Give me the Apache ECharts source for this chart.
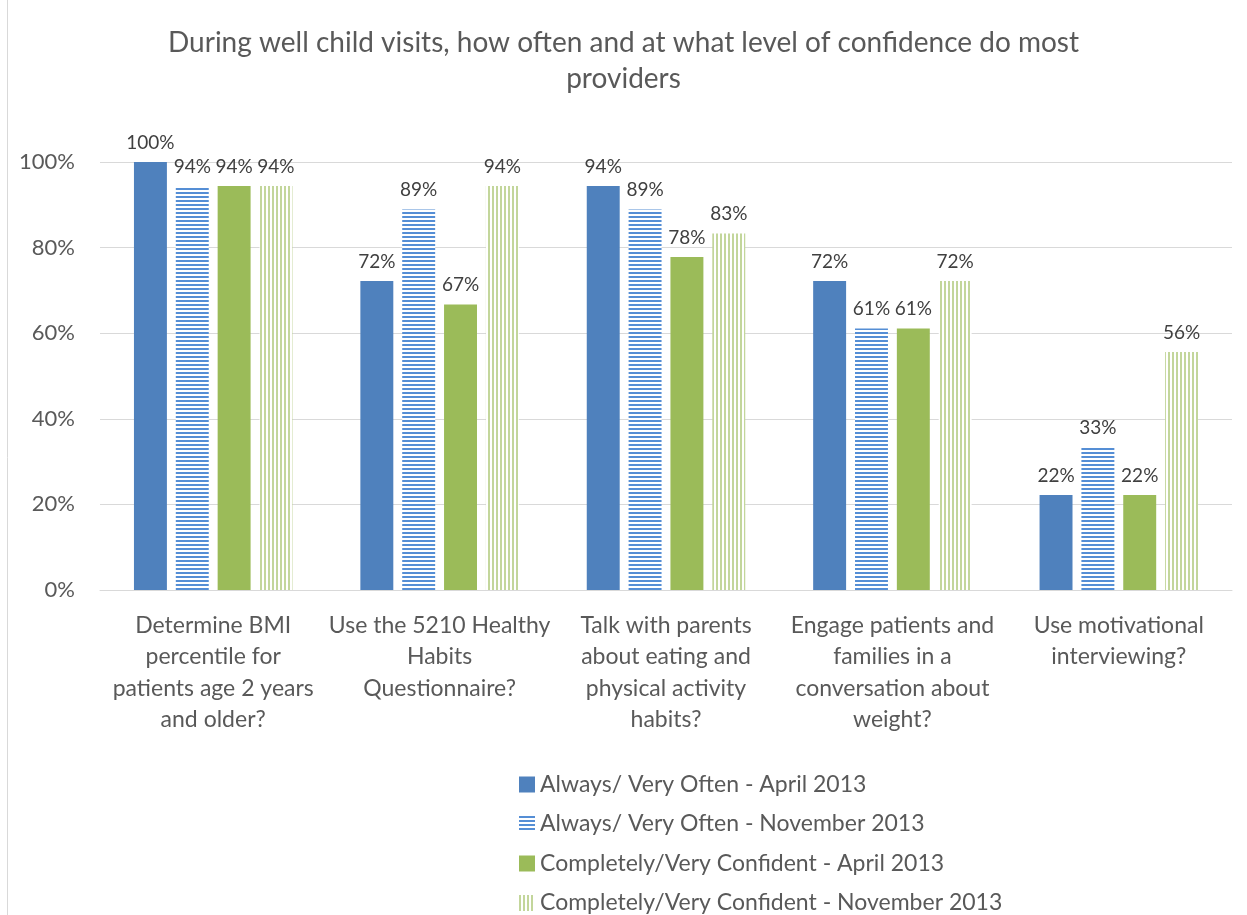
<!DOCTYPE html>
<html><head><meta charset="utf-8">
<script src="https://cdn.jsdelivr.net/npm/echarts@6/dist/echarts.min.js"></script>
<style>html,body{margin:0;padding:0;background:#fff}#c{width:1247px;height:915px}</style>
</head><body><div id="c"></div>
<script>
const titleText = 'During well child visits, how often and at what level of confidence do most\nproviders';
const categories = [
  'Determine BMI\npercentile for\npatients age 2 years\nand older?',
  'Use the 5210 Healthy\nHabits\nQuestionnaire?',
  'Talk with parents\nabout eating and\nphysical activity\nhabits?',
  'Engage patients and\nfamilies in a\nconversation about\nweight?',
  'Use motivational\ninterviewing?'
];
const seriesNames = [
  'Always/ Very Often - April 2013',
  'Always/ Very Often - November 2013',
  'Completely/Very Confident - April 2013',
  'Completely/Very Confident - November 2013'
];
const alwaysApr = [100, 72.2, 94.4, 72.2, 22.2];
const alwaysNov = [94.4, 88.9, 88.9, 61.1, 33.3];
const confApr = [94.4, 66.7, 77.8, 61.1, 22.2];
const confNov = [94.4, 94.4, 83.3, 72.2, 55.6];
const yTicks = [0, 20, 40, 60, 80, 100];

const FONT = 'Lato';

function hPattern(color) {
  const c = document.createElement('canvas');
  c.width = 4; c.height = 4;
  const x = c.getContext('2d');
  x.fillStyle = '#fff'; x.fillRect(0, 0, 4, 4);
  x.fillStyle = color; x.fillRect(0, 0, 4, 2);
  return { image: c, repeat: 'repeat' };
}
function vPattern(color) {
  const c = document.createElement('canvas');
  c.width = 4; c.height = 4;
  const x = c.getContext('2d');
  x.fillStyle = '#fff'; x.fillRect(0, 0, 4, 4);
  x.fillStyle = color; x.fillRect(0, 0, 2, 4);
  return { image: c, repeat: 'repeat' };
}

const colors = ['#4F81BD', hPattern('#558ED5'), '#9BBB59', vPattern('#C3D69B')];
const dataSets = [alwaysApr, alwaysNov, confApr, confNov];

const chart = echarts.init(document.getElementById('c'), null, { renderer: 'canvas' });
chart.setOption({
  animation: false,
  backgroundColor: '#fff',
  textStyle: { fontFamily: FONT },
  title: {
    text: titleText,
    left: 'center',
    top: 20,
    textStyle: { fontFamily: FONT, fontSize: 28, fontWeight: 'normal', color: '#595959', lineHeight: 36 }
  },
  graphic: [{
    type: 'line', shape: { x1: 7.5, y1: 0, x2: 7.5, y2: 915 },
    style: { stroke: '#D9D9D9', lineWidth: 1 }
  }],
  legend: {
    orient: 'vertical',
    left: 519,
    top: 773,
    padding: 0,
    itemWidth: 16,
    itemHeight: 16,
    itemGap: 16.5,
    icon: 'rect',
    textStyle: { fontFamily: FONT, fontSize: 23, color: '#595959', lineHeight: 22 },
    data: seriesNames
  },
  grid: { left: 100, right: 15, top: 162, bottom: 325, containLabel: false },
  xAxis: {
    type: 'category',
    data: categories,
    axisLine: { lineStyle: { color: '#D9D9D9', width: 1 } },
    axisTick: { show: false },
    axisLabel: { fontFamily: FONT, fontSize: 23, color: '#595959', lineHeight: 31.3, margin: 20, interval: 0 }
  },
  yAxis: {
    type: 'value',
    min: 0, max: 100, interval: 20,
    axisLine: { show: false },
    axisTick: { show: false },
    splitLine: { lineStyle: { color: '#D9D9D9', width: 1 } },
    axisLabel: {
      fontFamily: FONT, fontSize: 22, color: '#595959', margin: 25,
      formatter: v => (yTicks.includes(v) ? v + '%' : '')
    }
  },
  series: dataSets.map((d, i) => ({
    name: seriesNames[i],
    type: 'bar',
    data: d,
    barGap: '27%',
    barCategoryGap: '30%',
    itemStyle: { color: colors[i] },
    label: {
      show: true, position: 'top', distance: 10,
      fontFamily: FONT, fontSize: 19, color: '#404040',
      formatter: p => Math.round(p.value) + '%'
    }
  }))
});
</script></body></html>
